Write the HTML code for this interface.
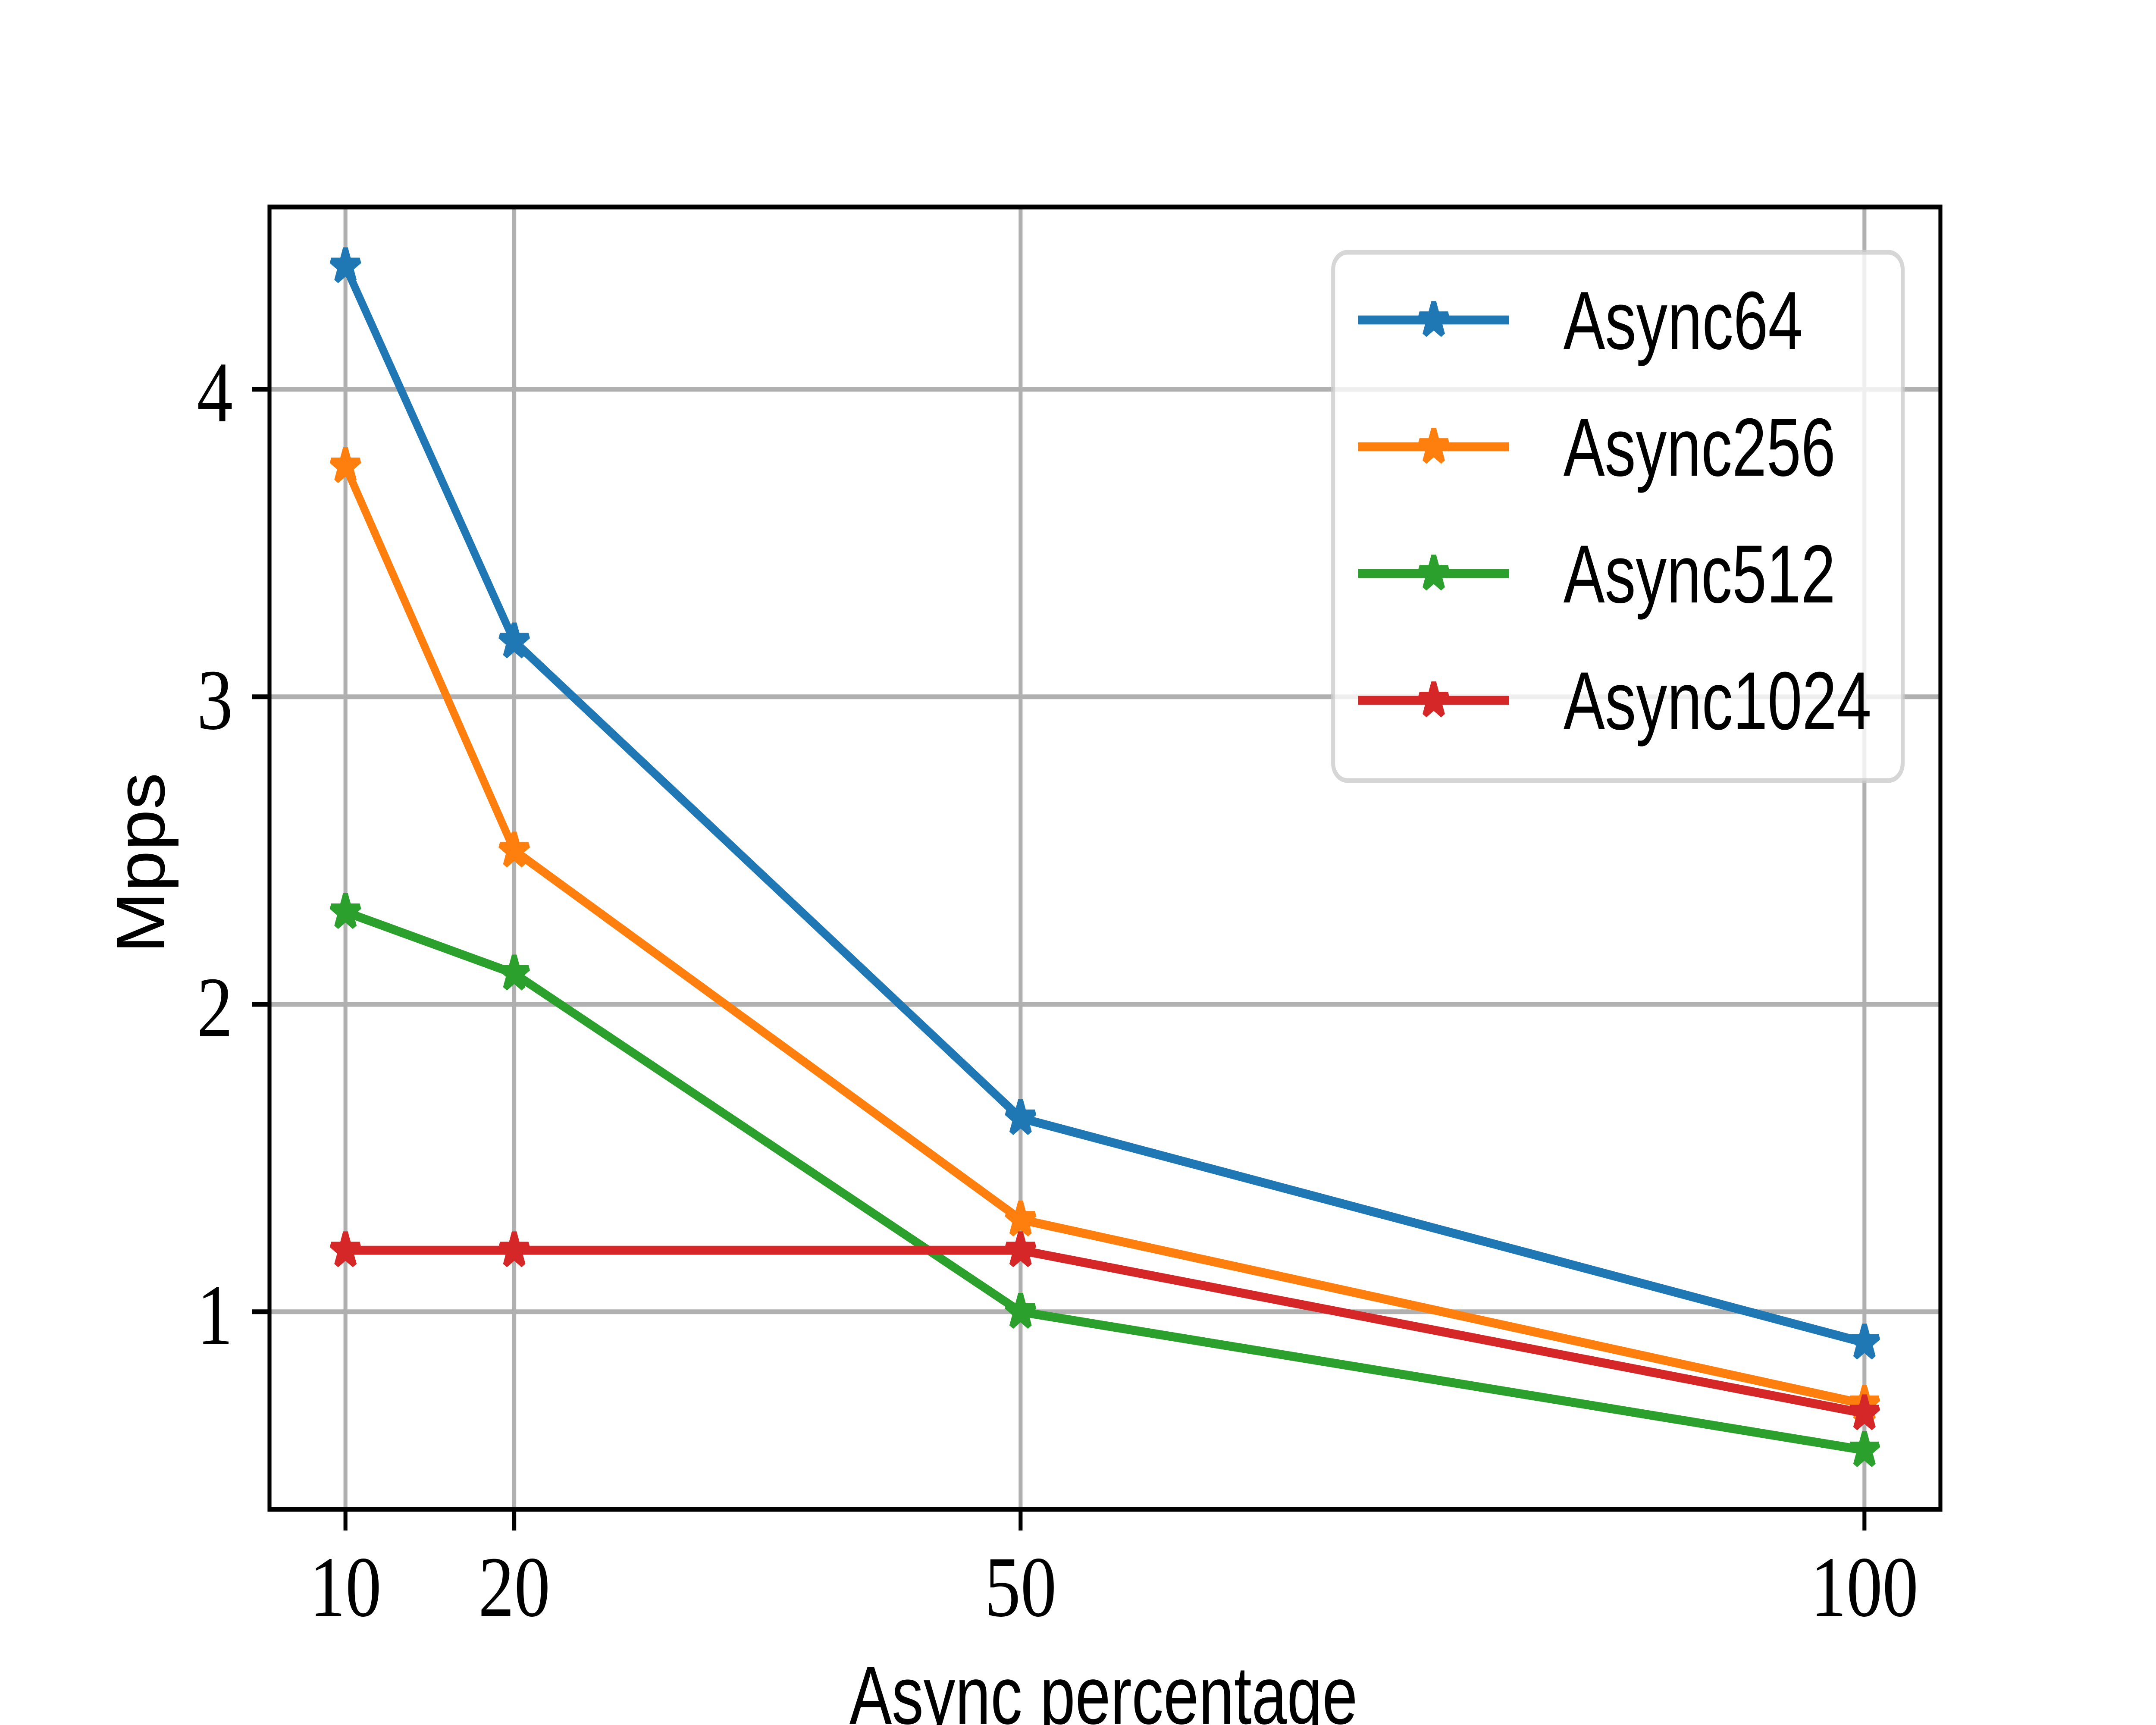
<!DOCTYPE html>
<html>
<head>
<meta charset="utf-8">
<style>
html,body{margin:0;padding:0;background:#fff;width:100%;height:100%;overflow:hidden;}
svg{display:block;position:fixed;left:0;top:0;width:100vw;height:100vh;}
</style>
</head>
<body>
<svg viewBox="0 0 6000 4000" preserveAspectRatio="none" xmlns="http://www.w3.org/2000/svg">
<defs>
<path id="st" d="M0,-41.7 L9.363,-12.887 L39.66,-12.886 L15.15,4.923 L24.51,33.74 L0,15.93 L-24.51,33.74 L-15.15,4.923 L-39.66,-12.886 L-9.363,-12.887 Z" stroke-width="13.9" stroke-linejoin="bevel"/>
</defs>
<rect x="0" y="0" width="6000" height="4000" fill="#fff"/>

<!-- grid -->
<g stroke="#b0b0b0" stroke-width="11" fill="none">
<line x1="961.4" y1="480" x2="961.4" y2="3500"/>
<line x1="1431.1" y1="480" x2="1431.1" y2="3500"/>
<line x1="2840.2" y1="480" x2="2840.2" y2="3500"/>
<line x1="5188.6" y1="480" x2="5188.6" y2="3500"/>
<line x1="750" y1="902.5" x2="5400" y2="902.5"/>
<line x1="750" y1="1615.8" x2="5400" y2="1615.8"/>
<line x1="750" y1="2329" x2="5400" y2="2329"/>
<line x1="750" y1="3041.8" x2="5400" y2="3041.8"/>
</g>

<!-- series -->
<g fill="none" stroke-width="20.8" stroke-linejoin="round" stroke-linecap="square">
<polyline stroke="#1f77b4" points="961.4,617.3 1431.1,1487.3 2840.2,2592.6 5188.6,3113.2"/>
</g>
<g fill="#1f77b4" stroke="#1f77b4">
<use href="#st" x="961.4" y="617.3"/><use href="#st" x="1431.1" y="1487.3"/><use href="#st" x="2840.2" y="2592.6"/><use href="#st" x="5188.6" y="3113.2"/>
</g>
<g fill="none" stroke-width="20.8" stroke-linejoin="round" stroke-linecap="square">
<polyline stroke="#ff7f0e" points="961.4,1080.8 1431.1,1972.2 2840.2,2827.9 5188.6,3255.8"/>
</g>
<g fill="#ff7f0e" stroke="#ff7f0e">
<use href="#st" x="961.4" y="1080.8"/><use href="#st" x="1431.1" y="1972.2"/><use href="#st" x="2840.2" y="2827.9"/><use href="#st" x="5188.6" y="3255.8"/>
</g>
<g fill="none" stroke-width="20.8" stroke-linejoin="round" stroke-linecap="square">
<polyline stroke="#2ca02c" points="961.4,2114.8 1431.1,2257.4 2840.2,3041.8 5188.6,3362.7"/>
</g>
<g fill="#2ca02c" stroke="#2ca02c">
<use href="#st" x="961.4" y="2114.8"/><use href="#st" x="1431.1" y="2257.4"/><use href="#st" x="2840.2" y="3041.8"/><use href="#st" x="5188.6" y="3362.7"/>
</g>
<g fill="none" stroke-width="20.8" stroke-linejoin="round" stroke-linecap="square">
<polyline stroke="#d62728" points="961.4,2899.2 1431.1,2899.2 2840.2,2899.2 5188.6,3277.2"/>
</g>
<g fill="#d62728" stroke="#d62728">
<use href="#st" x="961.4" y="2899.2"/><use href="#st" x="1431.1" y="2899.2"/><use href="#st" x="2840.2" y="2899.2"/><use href="#st" x="5188.6" y="3277.2"/>
</g>

<!-- spines -->
<rect x="750" y="480" width="4650" height="3020" fill="none" stroke="#000" stroke-width="11" stroke-linejoin="miter"/>

<!-- ticks -->
<g stroke="#000" stroke-width="11">
<line x1="961.4" y1="3500" x2="961.4" y2="3549"/>
<line x1="1431.1" y1="3500" x2="1431.1" y2="3549"/>
<line x1="2840.2" y1="3500" x2="2840.2" y2="3549"/>
<line x1="5188.6" y1="3500" x2="5188.6" y2="3549"/>
<line x1="750" y1="902.5" x2="701" y2="902.5"/>
<line x1="750" y1="1615.8" x2="701" y2="1615.8"/>
<line x1="750" y1="2329" x2="701" y2="2329"/>
<line x1="750" y1="3041.8" x2="701" y2="3041.8"/>
</g>

<!-- tick labels -->
<g font-family="'Liberation Serif', serif" font-size="200" fill="#000">
<text x="961.4" y="3747" text-anchor="middle">10</text>
<text x="1431.1" y="3747" text-anchor="middle">20</text>
<text x="2840.2" y="3747" text-anchor="middle">50</text>
<text x="5188.6" y="3747" text-anchor="middle">100</text>
<text x="648" y="977" text-anchor="end">4</text>
<text x="648" y="1690" text-anchor="end">3</text>
<text x="648" y="2403" text-anchor="end">2</text>
<text x="648" y="3116" text-anchor="end">1</text>
</g>

<!-- axis labels -->
<g font-family="'Liberation Sans', sans-serif" font-size="191" fill="#000">
<text x="3071" y="3997" text-anchor="middle" textLength="1414" lengthAdjust="spacingAndGlyphs">Async percentage</text>
<text transform="translate(457,2001) rotate(-90)" x="0" y="0" text-anchor="middle" textLength="419" lengthAdjust="spacingAndGlyphs">Mpps</text>
</g>

<!-- legend -->
<rect x="3710" y="585" width="1585" height="1225" rx="40" ry="40" fill="#fff" fill-opacity="0.8" stroke="#cccccc" stroke-opacity="0.8" stroke-width="11"/>
<g stroke-width="20.8" stroke-linecap="butt">
<line x1="3780" y1="742" x2="4200" y2="742" stroke="#1f77b4"/>
<line x1="3780" y1="1036" x2="4200" y2="1036" stroke="#ff7f0e"/>
<line x1="3780" y1="1330" x2="4200" y2="1330" stroke="#2ca02c"/>
<line x1="3780" y1="1624" x2="4200" y2="1624" stroke="#d62728"/>
</g>
<use href="#st" x="3990" y="742" fill="#1f77b4" stroke="#1f77b4"/>
<use href="#st" x="3990" y="1036" fill="#ff7f0e" stroke="#ff7f0e"/>
<use href="#st" x="3990" y="1330" fill="#2ca02c" stroke="#2ca02c"/>
<use href="#st" x="3990" y="1624" fill="#d62728" stroke="#d62728"/>
<g font-family="'Liberation Sans', sans-serif" font-size="191" fill="#000">
<text x="4351" y="809" textLength="666" lengthAdjust="spacingAndGlyphs">Async64</text>
<text x="4351" y="1103" textLength="757" lengthAdjust="spacingAndGlyphs">Async256</text>
<text x="4351" y="1397" textLength="757" lengthAdjust="spacingAndGlyphs">Async512</text>
<text x="4351" y="1691" textLength="857" lengthAdjust="spacingAndGlyphs">Async1024</text>
</g>
</svg>
</body>
</html>
